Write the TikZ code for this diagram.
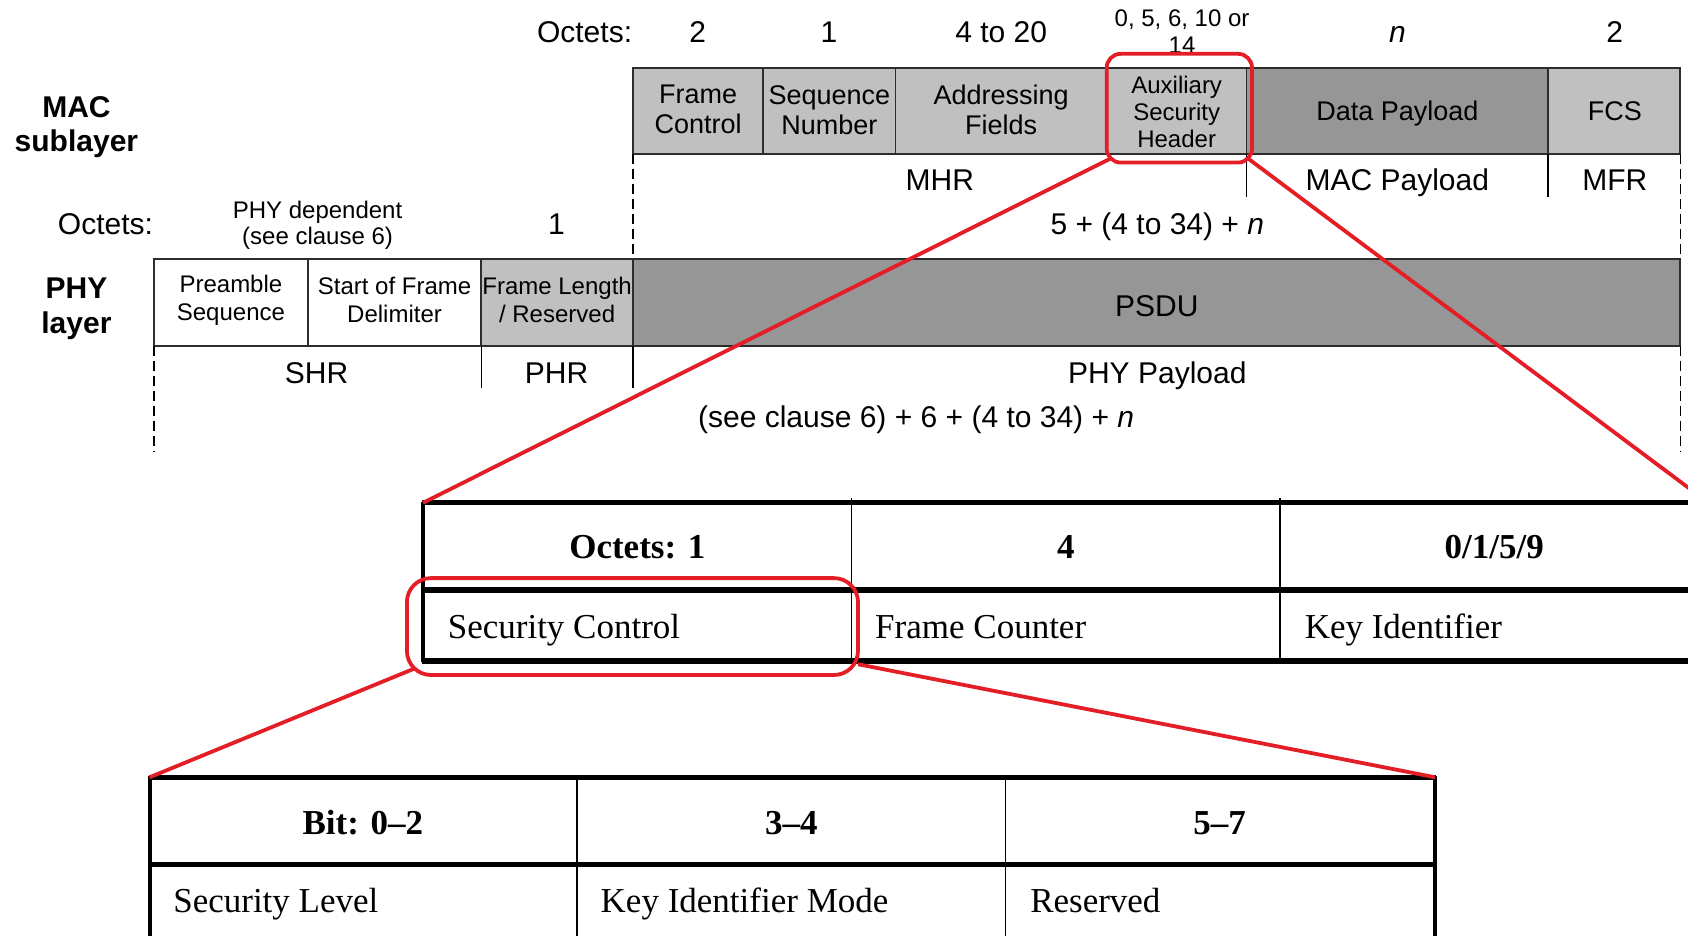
\documentclass[tikz,border=0pt]{standalone}
\usepackage{fontspec}
\setmainfont{Liberation Serif}
\setsansfont{Liberation Sans}

\definecolor{lightcell}{RGB}{192,192,192}
\definecolor{darkcell}{RGB}{150,150,150}
\definecolor{zoomred}{RGB}{228,30,38}
\definecolor{rulegray}{RGB}{45,45,45}

\tikzset{
  every node/.style={inner sep=0pt, outer sep=0pt},
  octet/.style={font=\sffamily\fontsize{15}{17}\selectfont, text height=10.8pt, text depth=0pt},
  fieldtxt/.style={font=\sffamily\fontsize{13.5}{15}\selectfont, align=center},
  fieldone/.style={font=\sffamily\fontsize{13.5}{15}\selectfont, text height=9.7pt, text depth=0pt},
  smalltxt/.style={font=\sffamily\fontsize{12}{13.4}\selectfont, align=center},
  layertxt/.style={font=\sffamily\bfseries\fontsize{15}{17.2}\selectfont, align=center},
  framebox/.style={draw=rulegray, line width=1pt},
  divider/.style={draw=rulegray, line width=0.8pt},
  guide/.style={draw=black, line width=0.6pt, dash pattern=on 5pt off 2.5pt},
  tick/.style={draw=black, line width=0.6pt},
  zoombox/.style={draw=zoomred, line width=1.9pt, rounded corners=7pt},
  zoomline/.style={draw=zoomred, line width=1.9pt},
  heavyrule/.style={draw=black, line width=2.6pt},
  sideline/.style={draw=black, line width=2pt},
  thinrule/.style={draw=black, line width=0.7pt},
  hdr/.style={font=\bfseries\fontsize{17.5}{20}\selectfont, text height=11.6pt, text depth=0pt},
  entry/.style={font=\fontsize{17.5}{20}\selectfont, text height=11.6pt, text depth=0pt, anchor=west},
}

\begin{document}
\begin{tikzpicture}[x=0.53827pt, y=-0.53827pt]
\useasboundingbox (0,0) rectangle (1568,869);
\begin{scope}
\clip (0,0) rectangle (1568,869);

% ---------------- MAC frame ----------------
\node[octet] (macoct) at (543,29) {Octets:};
\node[octet] (oct-fc) at (648,29) {2};
\node[octet] (oct-sn) at (770,29) {1};
\node[octet] (oct-af) at (930,29) {4 to 20};
\node[smalltxt] (oct-ash) at (1098,29) {0, 5, 6, 10 or\\14};
\node[octet] (oct-dp) at (1298,29) {\textit{n}};
\node[octet] (oct-fcs) at (1500,29) {2};

\fill[lightcell] (588,63) rectangle (1561,143);
\fill[darkcell] (1158,63) rectangle (1438,143);
\draw[framebox] (588,63) rectangle (1561,143);
\foreach \xx in {709,832,1028,1158,1438} \draw[divider] (\xx,63) -- (\xx,143);

\node[layertxt] (maclayer) at (71,118) {MAC\\sublayer};
\node[fieldtxt] (fc) at (648.5,102) {Frame\\Control};
\node[fieldtxt] (sn) at (770.5,102) {Sequence\\Number};
\node[fieldtxt] (af) at (930,102) {Addressing\\Fields};
\node[smalltxt, font=\sffamily\fontsize{12}{13.7}\selectfont] (ash) at (1093,104) {Auxiliary\\Security\\Header};
\node[fieldone] (dp) at (1298,103) {Data Payload};
\node[fieldone] (fcs) at (1500,103) {FCS};

\draw[tick] (1158,143) -- (1158,183);
\draw[tick] (1438,143) -- (1438,183);
\node[octet] (mhr) at (873,167) {MHR};
\node[octet] (macpl) at (1298,167) {MAC Payload};
\node[octet] (mfr) at (1500,167) {MFR};
\node[octet] (macsize) at (1075,208) {5 + (4 to 34) + \textit{n}};

\draw[guide] (588,143) -- (588,241);
\draw[guide] (1561,143) -- (1561,241);

% ---------------- PHY frame ----------------
\node[octet] (phyoct) at (98,208) {Octets:};
\node[smalltxt, font=\sffamily\fontsize{12}{12.9}\selectfont] (oct-shr) at (295,209.5) {PHY dependent\\(see clause 6)};
\node[octet] (oct-phr) at (517,208) {1};

\fill[lightcell] (447,241) rectangle (588,321);
\fill[darkcell] (588,241) rectangle (1561,321);
\draw[framebox] (143,241) rectangle (1561,321);
\foreach \xx in {286,447,588} \draw[divider] (\xx,241) -- (\xx,321);

\node[layertxt] (phylayer) at (71,287) {PHY\\layer};
\node[smalltxt, font=\sffamily\fontsize{12}{14}\selectfont] (pre) at (214.5,279) {Preamble\\Sequence};
\node[smalltxt, font=\sffamily\fontsize{12}{14}\selectfont] (sfd) at (366.5,279) {Start of Frame\\Delimiter};
\node[smalltxt, font=\sffamily\fontsize{12}{14}\selectfont] (fl) at (517.5,279) {Frame Length\\/ Reserved};
\node[octet] (psdu) at (1074.5,284) {PSDU};

\draw[tick] (447,321) -- (447,360);
\draw[tick] (588,321) -- (588,360);
\node[octet] (shr) at (294,346) {SHR};
\node[octet] (phr) at (517,346) {PHR};
\node[octet] (phypl) at (1075,346) {PHY Payload};
\node[octet] (physize) at (851,387) {(see clause 6) + 6 + (4 to 34) + \textit{n}};

\draw[guide] (143,321) -- (143,420);
\draw[guide] (1561,321) -- (1561,420);

% ---------------- auxiliary security header ----------------
\coordinate (ashTL) at (393,467);
\coordinate (ashTR) at (1587,467);
\draw[thinrule] (791,463) -- (791,614);
\draw[thinrule] (1189,463) -- (1189,614);
\draw[heavyrule] (392,467) -- (1600,467);
\draw[heavyrule] (392,548) -- (1600,548);
\draw[heavyrule] (392,614) -- (1600,614);
\draw[sideline] (393,466) -- (393,615);

\node[hdr] (h-sc) at (592,508) {Octets: 1};
\node[hdr] (h-fcnt) at (990,508) {4};
\node[hdr] (h-kid) at (1388,508) {0/1/5/9};
\node[entry] (sc) at (416,582) {Security Control};
\node[entry] (fcnt) at (813,582) {Frame Counter};
\node[entry] (kid) at (1212,582) {Key Identifier};

% ---------------- security control field ----------------
\coordinate (scTL) at (139,722);
\coordinate (scTR) at (1333,722);
\draw[thinrule] (536,722) -- (536,875);
\draw[thinrule] (934,722) -- (934,875);
\draw[heavyrule] (138,722) -- (1334,722);
\draw[heavyrule] (138,803) -- (1334,803);
\draw[sideline] (139,721) -- (139,875);
\draw[sideline] (1333,721) -- (1333,875);

\node[hdr] (h-sl) at (337,764) {Bit: 0--2};
\node[hdr] (h-kim) at (735,764) {3--4};
\node[hdr] (h-res) at (1133,764) {5--7};
\node[entry] (sl) at (161,837) {Security Level};
\node[entry] (kim) at (558,837) {Key Identifier Mode};
\node[entry] (res) at (957,837) {Reserved};

% ---------------- zoom highlights ----------------
\node[zoombox, minimum width=135*0.53827pt, minimum height=101*0.53827pt] (ashzoom) at (1095.5,100.5) {};
\coordinate (ashL) at (1032,147);
\coordinate (ashR) at (1159,147);
\draw[zoomline] (ashL) -- (ashTL);
\draw[zoomline] (ashR) -- (ashTR);

\node[zoombox, rounded corners=12pt, minimum width=419*0.53827pt, minimum height=90*0.53827pt] (sczoom) at (587.5,582) {};
\coordinate (scL) at (385,621);
\coordinate (scR) at (797,617);
\draw[zoomline] (scL) -- (scTL);
\draw[zoomline] (scR) -- (scTR);
\end{scope}
\end{tikzpicture}
\end{document}
